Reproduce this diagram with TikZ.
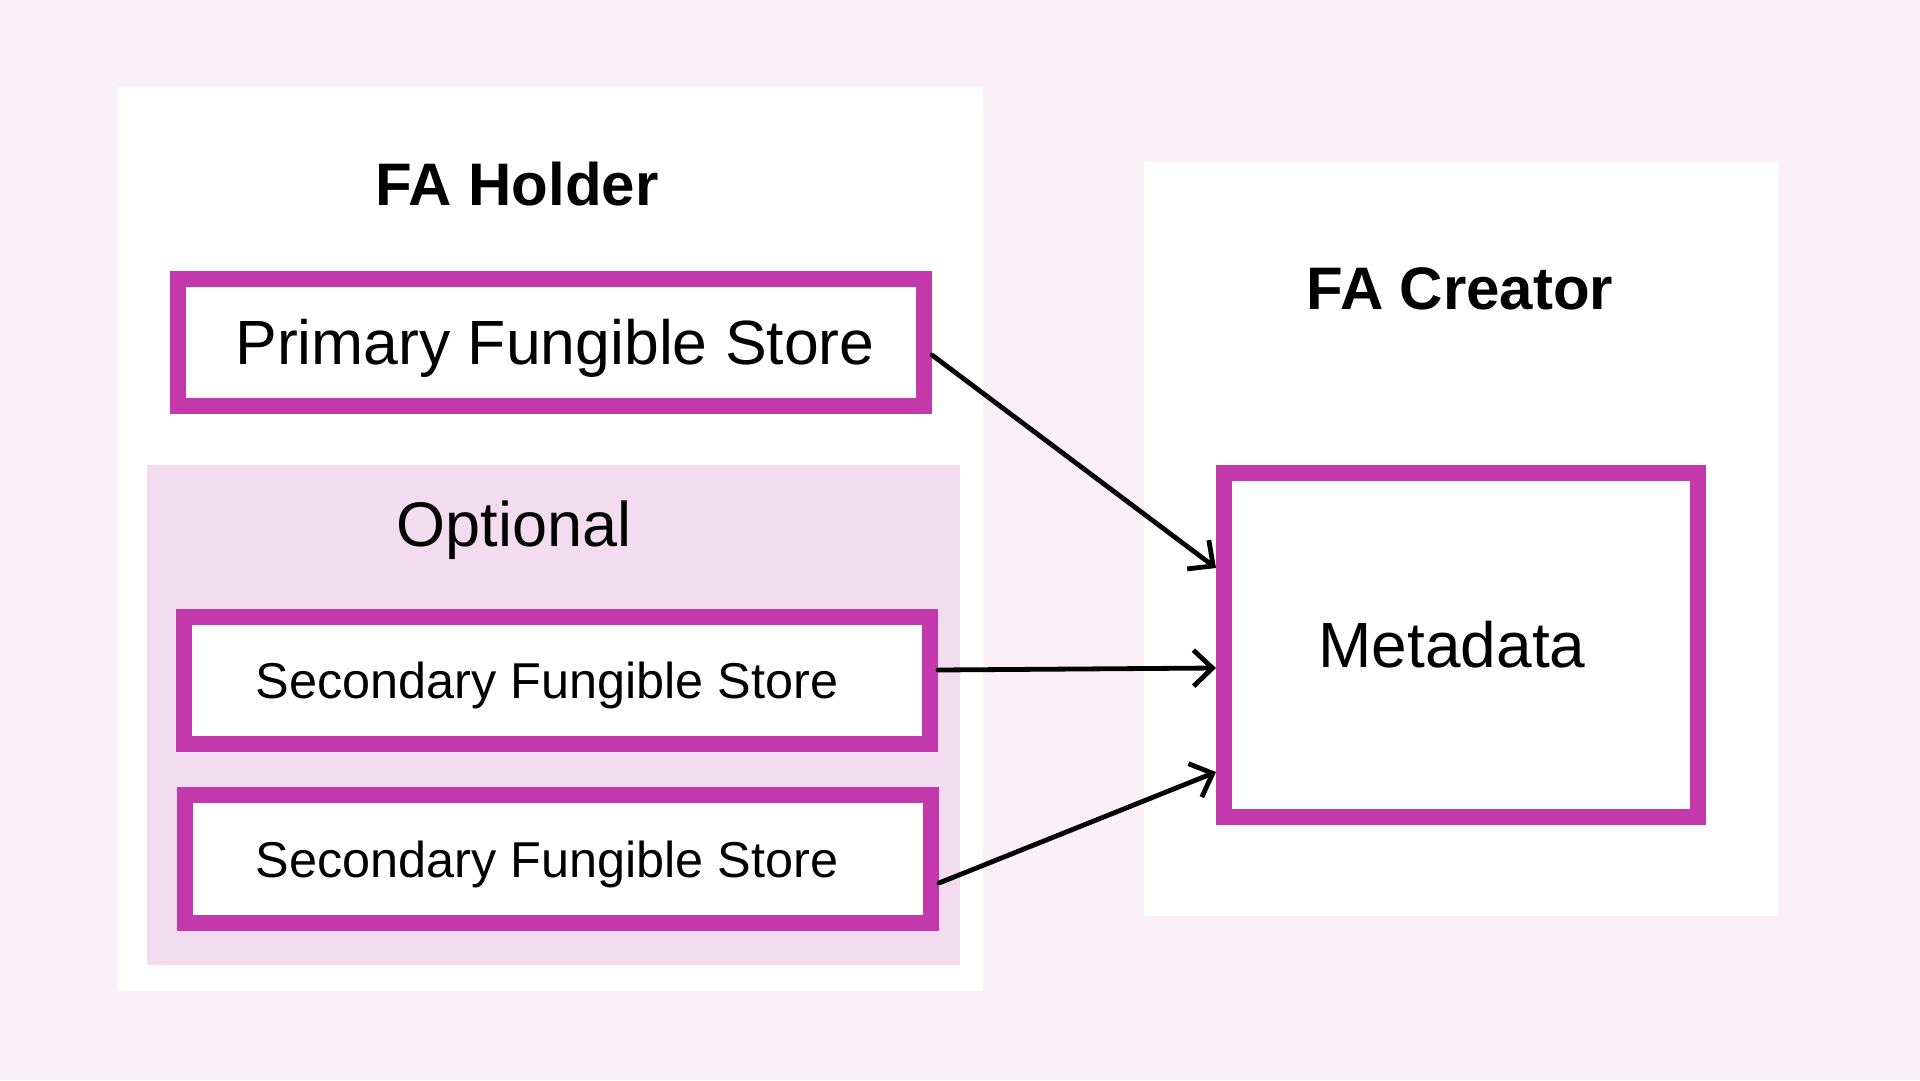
\documentclass[tikz,border=0pt]{standalone}
\usepackage{fontspec}
\setmainfont{Liberation Sans}
\usetikzlibrary{arrows.meta, positioning}
\definecolor{pagepink}{HTML}{FBEFF8}
\definecolor{optpink}{HTML}{F4DCF0}
\definecolor{storemag}{HTML}{C339AB}

\begin{document}
\begin{tikzpicture}[
  x=1pt, y=-1pt,
  panel/.style={fill=white, draw=none},
  storebox/.style={draw=storemag, line width=16pt, fill=white, inner sep=0pt, text depth=0pt},
  titletext/.style={font=\fontsize{60}{70}\selectfont\bfseries},
  flow/.style={-{Straight Barb[length=19pt, width=36pt]}, line width=4.8pt, line cap=round}
]
  % page and panels
  \useasboundingbox[fill=pagepink] (0,0) rectangle (1920,1080);
  \fill[panel] (117,87) rectangle (983,991);
  \fill[panel] (1144,162) rectangle (1778,916);
  \fill[optpink] (147,465) rectangle (960,965);

  \node[titletext] (holder) at (517,184) {FA Holder};
  \node[titletext] (creator) at (1460,289) {FA Creator};

  % stores
  \node[storebox, minimum width=746pt, minimum height=127pt, text height=44.7pt,
        font=\fontsize{62.5}{70}\selectfont] (prim) at (551,342) {\kern8pt Primary Fungible Store};
  \node[font=\fontsize{63}{70}\selectfont, text height=45pt, text depth=0pt]
        (opt) at (514,524) {Optional};
  \node[storebox, minimum width=746pt, minimum height=127pt, text height=36pt,
        font=\fontsize{50.4}{60}\selectfont] (sec1) at (557,680) {\kern-20pt Secondary Fungible Store};
  \node[storebox, minimum width=746pt, minimum height=128pt, text height=36pt,
        font=\fontsize{50.4}{60}\selectfont] (sec2) at (558,859) {\kern-22pt Secondary Fungible Store};

  \node[storebox, minimum width=474pt, minimum height=344pt, text height=45.8pt,
        font=\fontsize{64}{70}\selectfont] (meta) at (1461,645) {\kern-18pt Metadata};

  % links
  \draw[flow] ([yshift=-13pt]prim.east) -- ([yshift=77pt]meta.west);
  \draw[flow] ([yshift=10pt]sec1.east) -- ([yshift=-23pt]meta.west);
  \draw[flow] ([yshift=-24pt]sec2.east) -- ([yshift=-127pt]meta.west);
\end{tikzpicture}
\end{document}
